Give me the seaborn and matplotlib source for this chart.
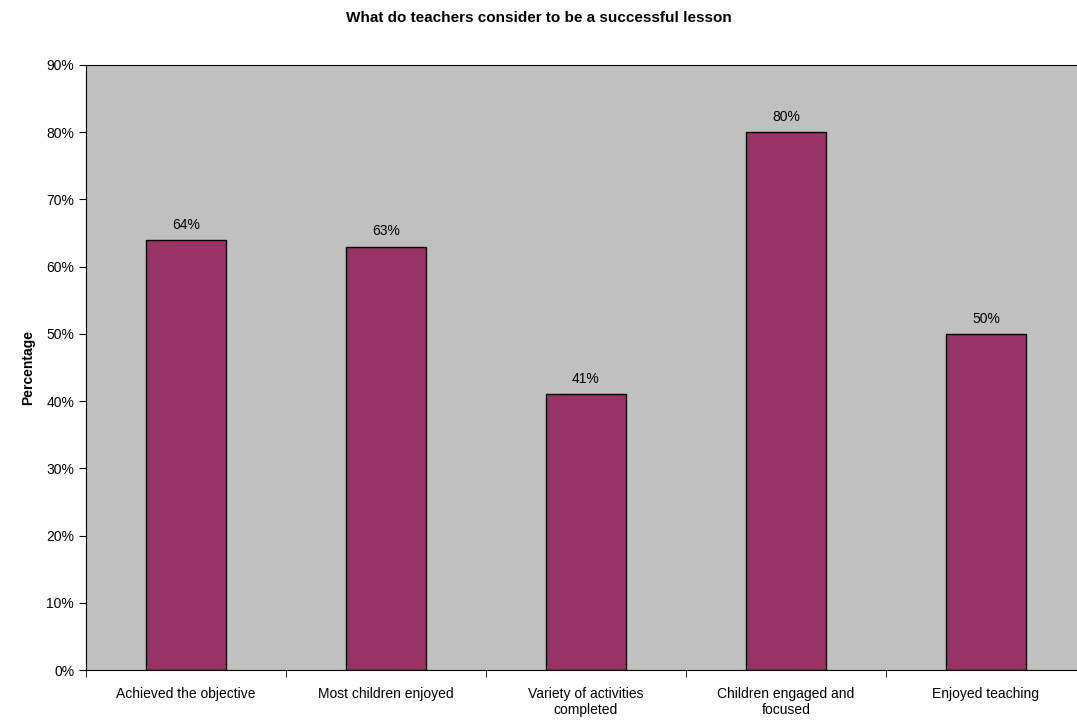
import matplotlib.pyplot as plt
import matplotlib.ticker as mticker
import numpy as np
import pandas as pd
import seaborn as sns

# data
categories = ['Achieved the objective', 'Most children enjoyed',
              'Variety of activities\ncompleted', 'Children engaged and\nfocused',
              'Enjoyed teaching']
percentages = [64, 63, 41, 80, 50]

df = pd.DataFrame({'category': categories, 'pct': percentages})

sns.set_style('ticks')
plt.rcParams['font.family'] = ['Liberation Sans', 'DejaVu Sans']
plt.rcParams['text.color'] = 'black'
plt.rcParams['axes.labelcolor'] = 'black'
plt.rcParams['xtick.color'] = 'black'
plt.rcParams['ytick.color'] = 'black'

fig = plt.figure(figsize=(10.77, 7.23), dpi=100)
ax = fig.add_axes([86 / 1077, 53 / 723, 1000 / 1077, 605 / 723])
ax.set_facecolor('#C0C0C0')

sns.barplot(x='category', y='pct', data=df, color='#993366', width=0.4,
            edgecolor='black', linewidth=1, saturation=1, ax=ax)

for i, v in enumerate(percentages):
    ax.text(i, v + 1.2, f'{v}%', ha='center', va='bottom', fontsize=10)

ax.set_xlim(-0.5, 4.5)
ax.set_ylim(0, 90)
ax.set_yticks(np.arange(0, 91, 10))
ax.yaxis.set_major_formatter(mticker.FuncFormatter(lambda v, p: f'{int(v)}%'))
ax.tick_params(axis='y', labelsize=10, length=5)
ax.tick_params(axis='x', which='major', length=0, labelsize=10, pad=12)
ax.set_xticks(np.arange(-0.5, 4.6, 1), minor=True)
ax.tick_params(axis='x', which='minor', length=5)

for s in ax.spines.values():
    s.set_color('black')
    s.set_linewidth(0.8)
ax.spines['right'].set_visible(False)

ax.set_xlabel('')
ax.set_ylabel('Percentage', fontsize=10, fontweight='bold', labelpad=8)
fig.text(0.5, 1 - 18 / 723, 'What do teachers consider to be a successful lesson',
         ha='center', va='center', fontsize=11, fontweight='bold')

fig.savefig('out.png', dpi=100)
